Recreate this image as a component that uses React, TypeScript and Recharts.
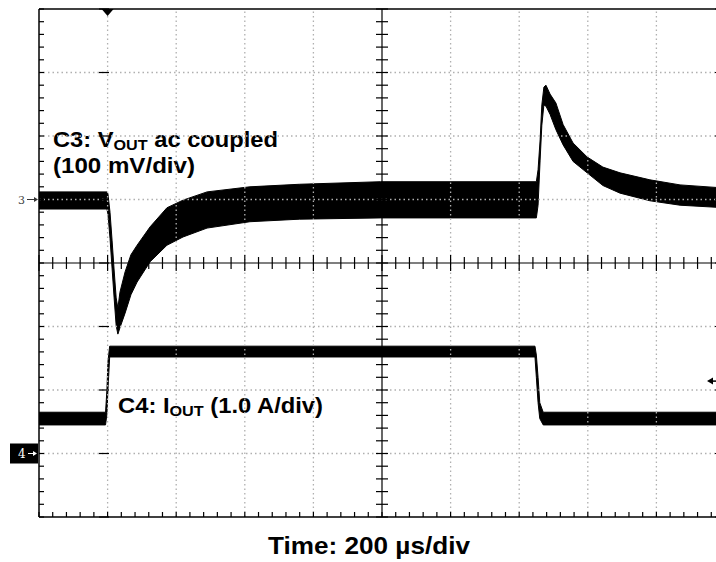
import {
  ComposedChart,
  Area,
  XAxis,
  YAxis,
  ReferenceLine,
  ReferenceDot,
  Customized,
} from 'recharts'

// time in µs (200 µs/div), C3 in mV relative to its marker, C4 in A relative to its marker
const TIME_V3 = [0, 198, 201, 207, 213, 219, 225, 230, 236, 251, 268, 286, 324, 373, 420, 490, 615, 760, 995, 1450, 1455, 1461, 1466, 1472, 1478, 1490, 1507, 1528, 1557, 1598, 1644, 1694, 1781, 1869, 2000]
const V3_HIGH = [12, 12, 9, -20, -64, -111, -155, -171, -146, -114, -87, -72, -43, -13, -1, 12, 20, 24, 28, 28, 47, 94, 149, 177, 180, 166, 152, 118, 89, 67, 51, 42, 31, 23, 18]
const V3_LOW = [-15, -15, -23, -61, -108, -155, -199, -212, -202, -179, -150, -130, -98, -72, -59, -45, -35, -31, -29, -29, -9, 62, 117, 149, 147, 134, 110, 86, 60, 42, 22, 10, -2, -9, -13]

const TIME_I4 = [0, 194, 198, 201, 206, 1446, 1450, 1455, 1460, 1470, 2000]
const I4_HIGH = [0.65, 0.65, 1.0, 1.45, 1.69, 1.69, 1.55, 1.2, 0.8, 0.65, 0.65]
const I4_LOW = [0.45, 0.45, 0.62, 1.0, 1.52, 1.52, 1.2, 0.8, 0.55, 0.45, 0.45]

const TRIGGER_T = 200
const TRIGGER_LEVEL_A = 1.14

const MINOR_T = Array.from({ length: 51 }, (_, i) => i * 40)
const MAJOR_T = Array.from({ length: 11 }, (_, i) => i * 200)
const MINOR_MV = Array.from({ length: 41 }, (_, i) => -500 + i * 20)
const MAJOR_MV = Array.from({ length: 9 }, (_, i) => -500 + i * 100)

const CENTER_T = 1000
const CENTER_MV = -100

const v3Data = TIME_V3.map((t, i) => ({ t, v: [V3_LOW[i], V3_HIGH[i]] }))
const i4Data = TIME_I4.map((t, i) => ({ t, v: [I4_LOW[i], I4_HIGH[i]] }))

const FONT = '"Liberation Sans", Arial, sans-serif'

function Annotations() {
  return (
    <g fontFamily={FONT} fontWeight="bold" fill="#000">
      <text x={53} y={147} fontSize={22} textLength={225} lengthAdjust="spacingAndGlyphs">
        C3: V<tspan fontSize={15} dy={3}>OUT</tspan>
        <tspan dy={-3}> ac coupled</tspan>
      </text>
      <text x={53} y={173} fontSize={22} textLength={142} lengthAdjust="spacingAndGlyphs">
        (100 mV/div)
      </text>
      <text x={118} y={413} fontSize={22} textLength={205} lengthAdjust="spacingAndGlyphs">
        C4: I<tspan fontSize={15} dy={3}>OUT</tspan>
        <tspan dy={-3}> (1.0 A/div)</tspan>
      </text>
      <text x={268} y={554} fontSize={24} textLength={202} lengthAdjust="spacingAndGlyphs">
        Time: 200 µs/div
      </text>
    </g>
  )
}

function NoTick() {
  return null
}

function Marker3({ cx, cy }: any) {
  return (
    <g>
      <text x={cx - 21} y={cy + 4} fontSize={11} fill="#444" fontFamily="DejaVu Serif">3</text>
      <line x1={cx - 12} y1={cy} x2={cx - 3} y2={cy} stroke="#333" strokeWidth={1} />
      <polygon points={`${cx - 1},${cy} ${cx - 5},${cy - 2.5} ${cx - 5},${cy + 2.5}`} fill="#333" />
    </g>
  )
}

function Marker4({ cx, cy }: any) {
  return (
    <g>
      <rect x={cx - 29} y={cy - 10} width={28} height={20} fill="#000" />
      <text x={cx - 21} y={cy + 4} fontSize={12} fill="#fff" fontFamily="DejaVu Serif">4</text>
      <line x1={cx - 11} y1={cy} x2={cx - 4} y2={cy} stroke="#fff" strokeWidth={1} />
      <polygon points={`${cx - 2},${cy} ${cx - 6},${cy - 2.5} ${cx - 6},${cy + 2.5}`} fill="#fff" />
    </g>
  )
}

function TriggerMark({ cx, cy }: any) {
  return <polygon points={`${cx - 6},${cy} ${cx + 6},${cy} ${cx},${cy + 7}`} fill="#000" />
}

function LevelMark({ cx, cy }: any) {
  return (
    <g>
      <line x1={cx - 14} y1={cy} x2={cx - 4} y2={cy} stroke="#000" strokeWidth={1.5} />
      <polygon points={`${cx - 18},${cy} ${cx - 12},${cy - 3.5} ${cx - 12},${cy + 3.5}`} fill="#000" />
    </g>
  )
}

const AX = { stroke: '#000', strokeWidth: 1.5 }
const TL = { stroke: '#000', strokeWidth: 1.2 }
const GRID = { stroke: '#b0b0b0', strokeWidth: 1.3, strokeDasharray: '1.5 3' }

export default function App() {
  return (
    <div style={{ position: 'absolute', left: 0, top: 0, width: 716, height: 562, overflow: 'hidden', background: '#fff' }}>
      <ComposedChart width={735} height={562} margin={{ top: 9, right: 10, bottom: 45, left: 39 }}>
        <XAxis xAxisId="t" dataKey="t" type="number" domain={[0, 2000]} allowDataOverflow ticks={MINOR_T} interval={0} tick={<NoTick />} tickSize={5} mirror axisLine={AX} tickLine={TL} />
        <XAxis xAxisId="tMaj" type="number" domain={[0, 2000]} allowDataOverflow ticks={MAJOR_T} interval={0} tick={<NoTick />} tickSize={10} mirror axisLine={false} tickLine={TL} />
        <XAxis xAxisId="tTop" orientation="top" type="number" domain={[0, 2000]} allowDataOverflow ticks={MINOR_T} interval={0} tick={<NoTick />} tickSize={5} mirror axisLine={AX} tickLine={TL} />
        <XAxis xAxisId="tTopMaj" orientation="top" type="number" domain={[0, 2000]} allowDataOverflow ticks={MAJOR_T} interval={0} tick={<NoTick />} tickSize={10} mirror axisLine={false} tickLine={TL} />
        <YAxis yAxisId="v3" type="number" domain={[-500, 300]} allowDataOverflow ticks={MINOR_MV} interval={0} tick={<NoTick />} tickSize={5} mirror axisLine={AX} tickLine={TL} />
        <YAxis yAxisId="v3Maj" type="number" domain={[-500, 300]} allowDataOverflow ticks={MAJOR_MV} interval={0} tick={<NoTick />} tickSize={10} mirror axisLine={false} tickLine={TL} />
        <YAxis yAxisId="v3R" orientation="right" type="number" domain={[-500, 300]} allowDataOverflow ticks={MAJOR_MV} interval={0} tick={<NoTick />} tickSize={10} mirror axisLine={AX} tickLine={TL} />
        <YAxis yAxisId="i4" type="number" domain={[-1, 7]} allowDataOverflow hide />

        {/* dotted graticule */}
        {MAJOR_T.slice(1, -1).map((t) =>
          t === CENTER_T ? null : <ReferenceLine key={`gx${t}`} xAxisId="t" yAxisId="v3" x={t} {...GRID} />
        )}
        {MAJOR_MV.slice(1, -1).map((v) =>
          v === CENTER_MV ? null : <ReferenceLine key={`gy${v}`} xAxisId="t" yAxisId="v3" y={v} {...GRID} />
        )}

        <ReferenceLine xAxisId="t" yAxisId="v3" x={CENTER_T} stroke="#000" strokeWidth={1.2} />
        <ReferenceLine xAxisId="t" yAxisId="v3" y={CENTER_MV} stroke="#000" strokeWidth={1.2} />
        {MINOR_T.map((t) => {
          const h = t % 200 === 0 ? 12.6 : 9.4
          return (
            <ReferenceLine
              key={`ct${t}`}
              xAxisId="t"
              yAxisId="v3"
              segment={[{ x: t, y: CENTER_MV - h }, { x: t, y: CENTER_MV + h }]}
              stroke="#000"
              strokeWidth={1.2}
            />
          )
        })}
        {MINOR_MV.map((v) => (
          <ReferenceLine
            key={`cv${v}`}
            xAxisId="t"
            yAxisId="v3"
            segment={[{ x: CENTER_T - 17.5, y: v }, { x: CENTER_T + 17.5, y: v }]}
            stroke="#000"
            strokeWidth={1.2}
          />
        ))}

        <Area
          data={v3Data}
          xAxisId="t"
          yAxisId="v3"
          dataKey="v"
          type="linear"
          stroke="#000"
          strokeWidth={1}
          fill="#000"
          fillOpacity={1}
          isAnimationActive={false}
        />
        <Area
          data={i4Data}
          xAxisId="t"
          yAxisId="i4"
          dataKey="v"
          type="linear"
          stroke="#000"
          strokeWidth={1}
          fill="#000"
          fillOpacity={1}
          isAnimationActive={false}
        />

        <ReferenceDot xAxisId="t" yAxisId="v3" x={0} y={0} ifOverflow="visible" shape={<Marker3 />} />
        <ReferenceDot xAxisId="t" yAxisId="i4" x={0} y={0} ifOverflow="visible" shape={<Marker4 />} />
        <ReferenceDot xAxisId="t" yAxisId="v3" x={TRIGGER_T} y={300} ifOverflow="visible" shape={<TriggerMark />} />
        <ReferenceDot xAxisId="t" yAxisId="i4" x={2000} y={TRIGGER_LEVEL_A} ifOverflow="visible" shape={<LevelMark />} />

        <Customized component={Annotations} />
      </ComposedChart>
    </div>
  )
}
